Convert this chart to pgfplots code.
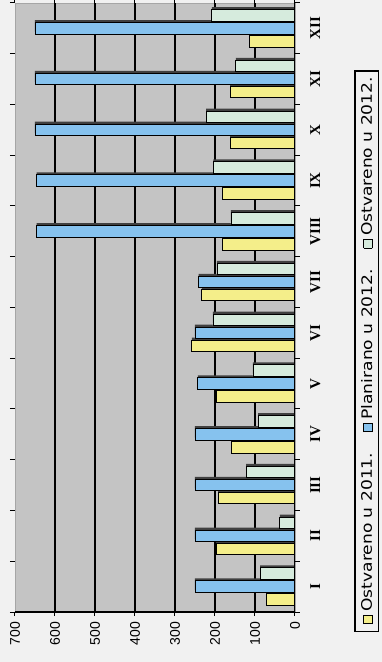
\documentclass[border=0pt]{standalone}
\usepackage{graphicx}
\usepackage{pgfplots}
\pgfplotsset{compat=1.18}
\usepackage{fontspec}
\setmainfont{Liberation Sans}
\newfontfamily\legendfont{DejaVu Sans}
\newfontfamily\catfont{Liberation Serif}

\definecolor{cyel}{HTML}{F4EE8A}
\definecolor{cblue}{HTML}{86C2EE}
\definecolor{cgreen}{HTML}{D6EBDD}
\definecolor{plotgray}{HTML}{C4C4C4}
\definecolor{paper}{HTML}{F1F1F1}

% legend entry set sideways: colour swatch followed by the series name
\newcommand{\sideentry}[2]{\rotatebox{90}{%
  {\setlength{\fboxsep}{0pt}\setlength{\fboxrule}{0.8pt}%
   \fcolorbox{black}{#1}{\rule{0pt}{8pt}\hspace{8pt}}}%
  \hspace{3pt}\scalebox{1.18}[1]{#2}}}

\begin{document}
\begin{tikzpicture}
\path[use as bounding box, fill=paper] (-15pt,-50pt) rectangle (367pt,612pt);
\begin{axis}[
  scale only axis,
  width=280pt, height=609pt,
  xbar, bar width=11.5pt,
  x dir=reverse,
  xmin=0, xmax=700,
  ymin=0.5, ymax=12.5,
  xtick={0,100,...,700},
  /pgf/number format/assume math mode=true,
  xticklabel style={rotate=90, anchor=east, inner sep=0pt,
    font=\fontsize{14}{14}\selectfont},
  xticklabel shift=6pt,
  x tick style={black, line width=1pt},
  major tick length=4pt,
  tick align=outside,
  extra x ticks={100,200,...,600},
  extra x tick labels={},
  extra x tick style={grid=major, major tick length=0pt},
  major grid style={black, line width=1.2pt},
  ytick={1,...,12},
  yticklabels={I,II,III,IV,V,VI,VII,VIII,IX,X,XI,XII},
  yticklabel pos=right,
  yticklabel style={rotate=90, anchor=north, inner sep=0pt,
    font=\catfont\bfseries\fontsize{15}{15}\selectfont},
  yticklabel shift=11pt,
  ytick style={draw=none},
  extra y ticks={0.5,1.5,...,12.5},
  extra y tick labels={},
  extra y tick style={ytick style={draw=black, line width=1pt}, major tick length=5pt},
  axis background/.style={fill=plotgray},
  axis line style={draw=gray!70, line width=0.6pt},
  legend image code/.code={},
  legend columns=1,
  reverse legend,
  legend style={at={(1.257,0.428)}, anchor=center,
    draw=black, line width=1.2pt, fill=paper,
    font=\legendfont\fontsize{14.5}{14.5}\selectfont,
    inner sep=3.5pt, row sep=14pt,
    nodes={inner sep=2.5pt},
    /tikz/every even column/.append style={column sep=0pt}},
]
% drop shadows under the bars
\addplot[forget plot, fill=black!75, draw=none, bar shift=-10.5pt] coordinates {
  (72,1) (197,2) (192,3) (158,4) (196,5) (258,6) (233,7) (181,8) (181,9) (162,10) (162,11) (113,12)};
\addplot[forget plot, fill=black!75, draw=none, bar shift=2.5pt] coordinates {
  (250,1) (250,2) (250,3) (250,4) (243,5) (250,6) (241,7) (646,8) (646,9) (650,10) (650,11) (650,12)};
\addplot[forget plot, fill=black!75, draw=none, bar shift=15.5pt] coordinates {
  (87,1) (38,2) (122,3) (92,4) (105,5) (205,6) (195,7) (160,8) (204,9) (222,10) (148,11) (208,12)};
% Ostvareno u 2011.
\addplot[fill=cyel, draw=black, line width=0.8pt, bar shift=-13pt] coordinates {
  (72,1) (197,2) (192,3) (158,4) (196,5) (258,6) (233,7) (181,8) (181,9) (162,10) (162,11) (113,12)};
% Planirano u 2012.
\addplot[fill=cblue, draw=black, line width=0.8pt, bar shift=0pt] coordinates {
  (250,1) (250,2) (250,3) (250,4) (243,5) (250,6) (241,7) (646,8) (646,9) (650,10) (650,11) (650,12)};
% Ostvareno u 2012.
\addplot[fill=cgreen, draw=black, line width=0.8pt, bar shift=13pt] coordinates {
  (87,1) (38,2) (122,3) (92,4) (105,5) (205,6) (195,7) (160,8) (204,9) (222,10) (148,11) (208,12)};
\addlegendentry{\sideentry{cyel}{Ostvareno u 2011.}}
\addlegendentry{\sideentry{cblue}{Planirano u 2012.}}
\addlegendentry{\sideentry{cgreen}{Ostvareno u 2012.}}
% dark axis lines along the value zero and the category axis
\draw[black, line width=1.2pt] (axis cs:700,0.5) -- (axis cs:0,0.5) -- (axis cs:0,12.5);
\end{axis}
\end{tikzpicture}
\end{document}
